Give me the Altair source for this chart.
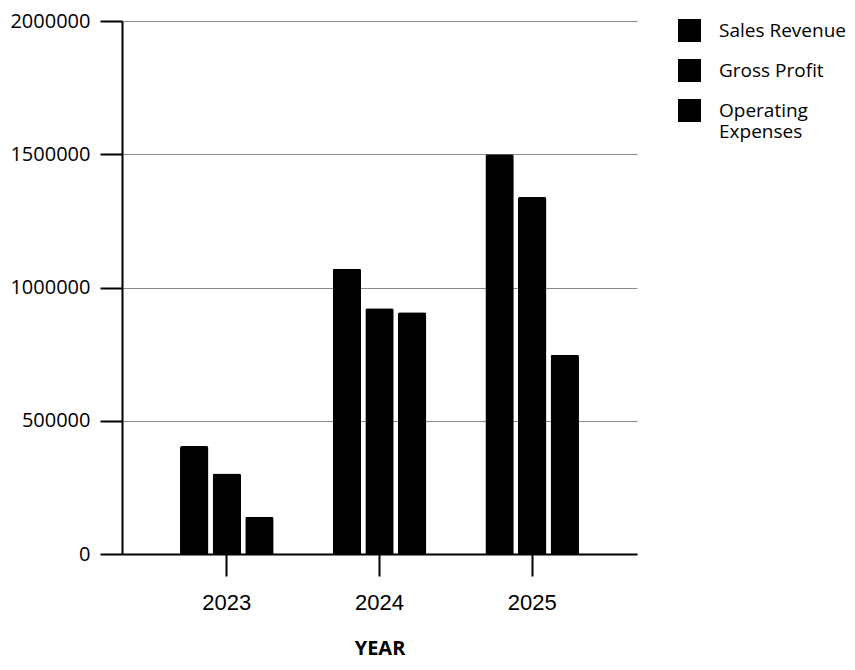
import altair as alt
import pandas as pd

years = ["2023", "2024", "2025"]
series = ["Sales Revenue", "Gross Profit", "Operating Expenses"]
sales_revenue = [405000, 1070000, 1500000]
gross_profit = [302000, 922000, 1340000]
operating_expenses = [140000, 907000, 748000]

rows = []
for i, y in enumerate(years):
    for s, vals in zip(series, [sales_revenue, gross_profit, operating_expenses]):
        rows.append({"year": y, "series": s, "value": vals[i]})
df = pd.DataFrame(rows)

bars = alt.Chart(df).mark_bar(
    color="black", cornerRadiusTopLeft=2, cornerRadiusTopRight=2
).encode(
    x=alt.X("year:N", sort=years,
            scale=alt.Scale(paddingInner=0.387, paddingOuter=0.38),
            axis=alt.Axis(title="YEAR", labelAngle=0, labelFont="Liberation Sans",
                          labelFontSize=22, labelColor="black", labelPadding=16,
                          tickSize=22, tickColor="black", tickWidth=2,
                          domainColor="black", domainWidth=2,
                          titleFont="Open Sans", titleFontSize=20, titleFontWeight="bold",
                          titleColor="black", titlePadding=25)),
    xOffset=alt.XOffset("series:N", sort=series,
                        scale=alt.Scale(paddingInner=0.13, paddingOuter=0)),
    y=alt.Y("value:Q", scale=alt.Scale(domain=[0, 2000000]),
            axis=alt.Axis(title=None, values=[0, 500000, 1000000, 1500000, 2000000],
                          format="d", labelFont="Open Sans", labelFontSize=20,
                          labelColor="black", labelPadding=10, tickSize=22,
                          tickColor="black", tickWidth=2, domainColor="black",
                          domainWidth=2, gridColor="#8a8a8a", gridWidth=1)),
    color=alt.Color("series:N", sort=series,
                    scale=alt.Scale(domain=series, range=["black", "black", "black"]),
                    legend=alt.Legend(title=None, orient="none", legendX=556, legendY=-2,
                                      symbolType="square", symbolSize=529,
                                      symbolStrokeWidth=0, labelFont="Open Sans",
                                      labelFontSize=19, labelColor="black",
                                      labelOffset=18, rowPadding=17, padding=0,
                                      labelLimit=300,
                                      labelExpr="datum.label == 'Operating Expenses' ? ['Operating', 'Expenses'] : datum.label")),
).properties(
    width=515, height=533,
    background="white",
    autosize=alt.AutoSizeParams(type="none"),
    padding={"left": 114, "top": 13, "right": 210, "bottom": 106},
).configure_view(strokeWidth=0, stroke="transparent")

chart = bars
chart.save("out.html", embed_options={"renderer": "svg", "actions": False})
